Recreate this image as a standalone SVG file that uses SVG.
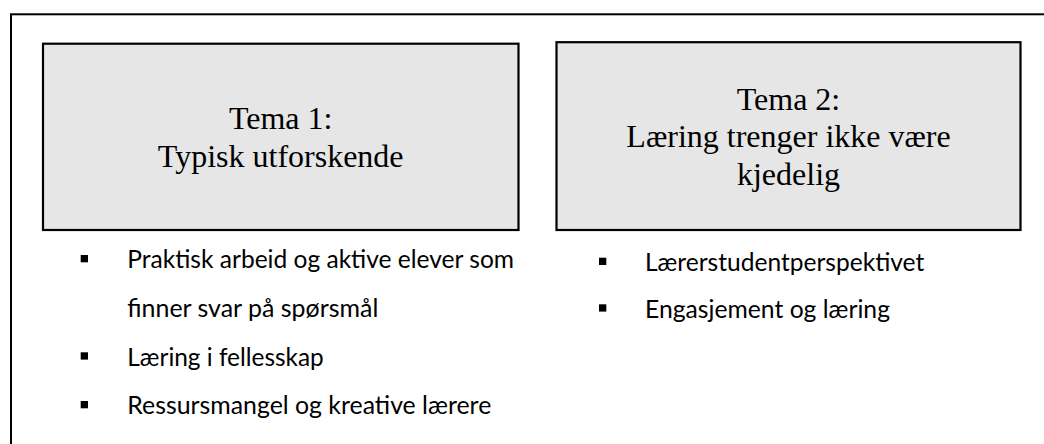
<svg xmlns="http://www.w3.org/2000/svg" width="1044" height="444" viewBox="0 0 1044 444">
<style>
.frame{fill:#fff;stroke:#000;stroke-width:2}
.box{fill:#e6e6e6;stroke:#000;stroke-width:2.2}
.title{font-family:"Liberation Serif","Times New Roman",serif;font-size:32px;fill:#000;text-anchor:middle}
.item{font-family:Lato,"Liberation Sans",sans-serif;font-size:24.5px;fill:#000}
.bul{fill:#000}
</style>
<rect class="frame" x="11" y="14.3" width="1100" height="500"/>
<g id="tema1">
<rect class="box" x="43" y="43.7" width="475.5" height="186.3"/>
<text class="title" x="280.7" y="129.3">Tema 1:</text>
<text class="title" x="280.7" y="166.7">Typisk utforskende</text>
</g>
<g id="tema2">
<rect class="box" x="556.5" y="42.2" width="464" height="187.8"/>
<text class="title" x="788.5" y="109.8">Tema 2:</text>
<text class="title" x="788.5" y="147">Læring trenger ikke være</text>
<text class="title" x="788.5" y="184.5">kjedelig</text>
</g>
<g id="liste1">
<rect class="bul" x="80.7" y="255" width="7.3" height="7.3"/>
<text class="item" x="127.3" y="268.3" textLength="386.7" lengthAdjust="spacingAndGlyphs">Praktisk arbeid og aktive elever som</text>
<text class="item" x="127.3" y="316.7" textLength="251" lengthAdjust="spacingAndGlyphs">finner svar på spørsmål</text>
<rect class="bul" x="80.7" y="352.3" width="7.3" height="7.3"/>
<text class="item" x="127.3" y="365.7" textLength="196.5" lengthAdjust="spacingAndGlyphs">Læring i fellesskap</text>
<rect class="bul" x="80.7" y="401" width="7.3" height="7.3"/>
<text class="item" x="127.3" y="413.7" textLength="364" lengthAdjust="spacingAndGlyphs">Ressursmangel og kreative lærere</text>
</g>
<g id="liste2">
<rect class="bul" x="599" y="257.7" width="7.3" height="7.3"/>
<text class="item" x="645" y="271" textLength="279.3" lengthAdjust="spacingAndGlyphs">Lærerstudentperspektivet</text>
<rect class="bul" x="599" y="304.3" width="7.3" height="7.3"/>
<text class="item" x="645" y="317.7" textLength="245" lengthAdjust="spacingAndGlyphs">Engasjement og læring</text>
</g>
<g id="connectors"></g>
</svg>
